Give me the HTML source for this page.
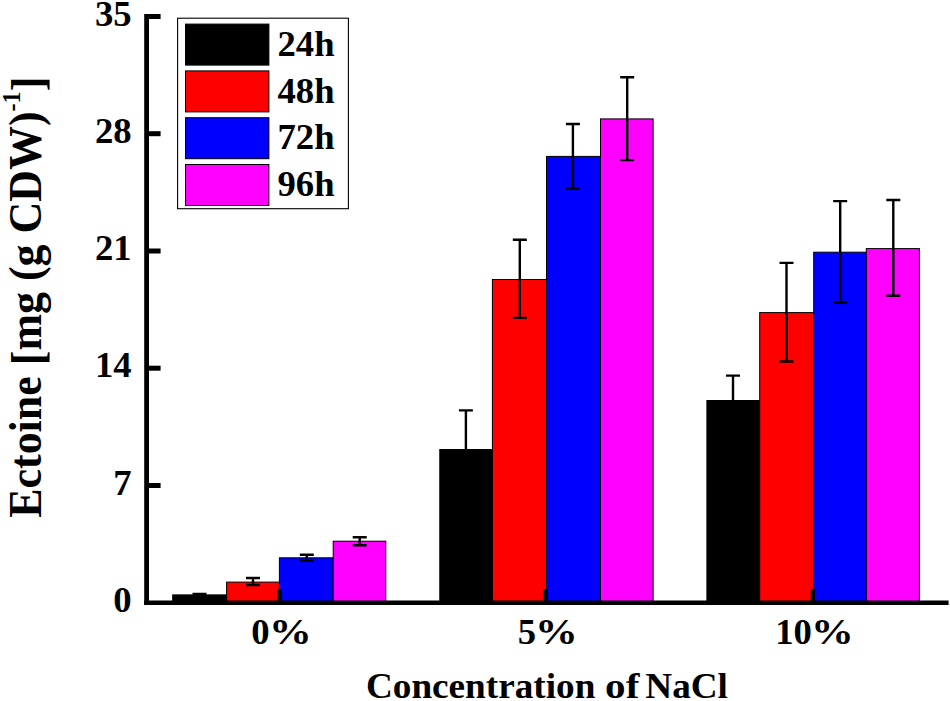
<!DOCTYPE html>
<html><head><meta charset="utf-8"><title>Ectoine vs NaCl</title>
<style>html,body{margin:0;padding:0;background:#fff;overflow:hidden}svg{display:block}text{font-family:"Liberation Serif",serif;font-weight:bold;fill:#000}</style></head><body>
<svg width="950" height="701" viewBox="0 0 950 701">
<rect x="0" y="0" width="950" height="701" fill="#fff"/>
<g stroke="#000" stroke-width="1">
<rect x="172.7" y="594.9" width="53.9" height="8.6" fill="#000000"/>
<rect x="226.6" y="582.1" width="52.8" height="21.4" fill="#ff0000"/>
<rect x="279.4" y="557.8" width="53.8" height="45.7" fill="#0000ff"/>
<rect x="333.2" y="541.2" width="52.6" height="62.3" fill="#ff00ff"/>
<rect x="439.8" y="449.5" width="52.6" height="154.0" fill="#000000"/>
<rect x="492.4" y="279.5" width="54.1" height="324.0" fill="#ff0000"/>
<rect x="546.5" y="156.4" width="54.0" height="447.1" fill="#0000ff"/>
<rect x="600.5" y="118.9" width="52.6" height="484.6" fill="#ff00ff"/>
<rect x="706.9" y="400.5" width="52.8" height="203.0" fill="#000000"/>
<rect x="759.7" y="312.6" width="54.0" height="290.9" fill="#ff0000"/>
<rect x="813.7" y="252.2" width="52.6" height="351.3" fill="#0000ff"/>
<rect x="866.3" y="248.6" width="53.1" height="354.9" fill="#ff00ff"/>
</g>
<g stroke="#000" stroke-width="2.4" fill="none">
<path d="M199.5 594.0V597.0M192.5 594.0H206.5M192.5 597.0H206.5"/>
<path d="M253.0 578.0V585.0M246.0 578.0H260.0M246.0 585.0H260.0"/>
<path d="M306.8 554.7V560.6M299.8 554.7H313.8M299.8 560.6H313.8"/>
<path d="M359.7 537.2V545.2M352.7 537.2H366.7M352.7 545.2H366.7"/>
<path d="M465.9 410.4V487.6M458.9 410.4H472.9M458.9 487.6H472.9"/>
<path d="M519.8 239.7V317.9M512.8 239.7H526.8M512.8 317.9H526.8"/>
<path d="M572.9 124.0V188.5M565.9 124.0H579.9M565.9 188.5H579.9"/>
<path d="M627.2 77.2V160.1M620.2 77.2H634.2M620.2 160.1H634.2"/>
<path d="M733.0 375.6V424.4M726.0 375.6H740.0M726.0 424.4H740.0"/>
<path d="M786.5 262.9V361.5M779.5 262.9H793.5M779.5 361.5H793.5"/>
<path d="M840.2 201.1V302.6M833.2 201.1H847.2M833.2 302.6H847.2"/>
<path d="M893.3 200.0V295.7M886.3 200.0H900.3M886.3 295.7H900.3"/>
</g>
<g fill="#000">
<rect x="144.2" y="14" width="4.8" height="591"/>
<rect x="144.2" y="600.5" width="804.4" height="4.5"/>
<rect x="148" y="483.0" width="12.6" height="5"/>
<rect x="148" y="365.7" width="12.6" height="5"/>
<rect x="148" y="248.5" width="12.6" height="5"/>
<rect x="148" y="131.2" width="12.6" height="5"/>
<rect x="148" y="14.0" width="12.6" height="5"/>
<rect x="277.70" y="589.5" width="4.3" height="12"/>
<rect x="543.75" y="589.5" width="4.3" height="12"/>
<rect x="810.70" y="589.5" width="4.3" height="12"/>
</g>
<text transform="translate(131.7,611.8) scale(1.048,1)" font-size="35" text-anchor="end">0</text>
<text transform="translate(131.7,494.6) scale(1.048,1)" font-size="35" text-anchor="end">7</text>
<text transform="translate(131.7,377.3) scale(1.048,1)" font-size="35" text-anchor="end">14</text>
<text transform="translate(131.7,260.1) scale(1.048,1)" font-size="35" text-anchor="end">21</text>
<text transform="translate(131.7,142.8) scale(1.048,1)" font-size="35" text-anchor="end">28</text>
<text transform="translate(131.7,25.6) scale(1.048,1)" font-size="35" text-anchor="end">35</text>
<text transform="translate(269.6,644.4) scale(1.048,1)" font-size="35" text-anchor="end">0</text>
<text transform="translate(269.0,644.4) scale(1.222,1)" font-size="35">%</text>
<text transform="translate(536.0,644.4) scale(1.048,1)" font-size="35" text-anchor="end">5</text>
<text transform="translate(534.9,644.4) scale(1.222,1)" font-size="35">%</text>
<text transform="translate(811.9,644.4) scale(1.048,1)" font-size="35" text-anchor="end">10</text>
<text transform="translate(811.0,644.4) scale(1.222,1)" font-size="35">%</text>
<text transform="translate(365.9,698.2) scale(1.0516,1)" font-size="35.4">Concentration</text>
<text transform="translate(605.1,698.2) scale(1.16,1)" font-size="35.4">of</text>
<text transform="translate(645.3,698.2) scale(1.051,1)" font-size="35.4">NaCl</text>
<text transform="translate(41.2,517.8) scale(1.048,1) rotate(-90)" font-size="43.95">Ectoine <tspan dy="1.9">[</tspan><tspan dy="-1.9">mg (g CDW)</tspan><tspan font-size="24.2" dy="-20">-1</tspan><tspan dy="21.9">]</tspan></text>
<rect x="177.6" y="18.2" width="170.8" height="190.5" fill="#fff" stroke="#000" stroke-width="1.1"/>
<rect x="185.5" y="24.1" width="83.4" height="41" fill="#000000" stroke="#000" stroke-width="1"/>
<text transform="translate(277.5,55.8) scale(1.048,1)" font-size="35">24h</text>
<rect x="185.5" y="70.9" width="83.4" height="41" fill="#ff0000" stroke="#000" stroke-width="1"/>
<text transform="translate(277.5,102.6) scale(1.048,1)" font-size="35">48h</text>
<rect x="185.5" y="117.7" width="83.4" height="41" fill="#0000ff" stroke="#000" stroke-width="1"/>
<text transform="translate(277.5,149.4) scale(1.048,1)" font-size="35">72h</text>
<rect x="185.5" y="164.5" width="83.4" height="41" fill="#ff00ff" stroke="#000" stroke-width="1"/>
<text transform="translate(277.5,196.2) scale(1.048,1)" font-size="35">96h</text>
</svg></body></html>
